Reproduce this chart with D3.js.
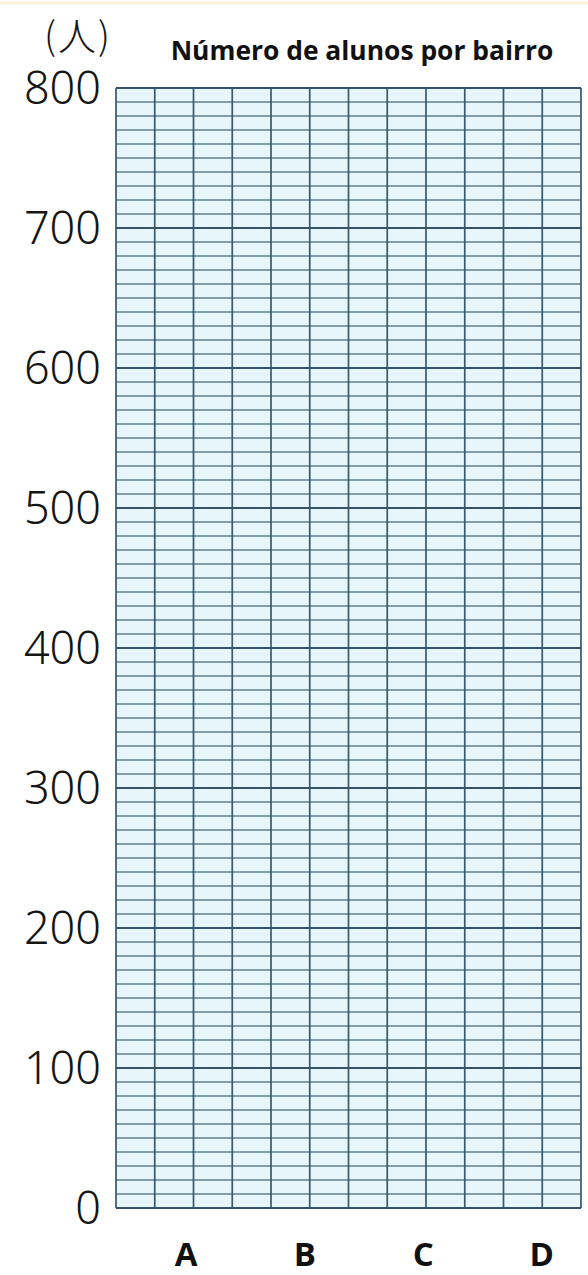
<!DOCTYPE html>
<html>
<head>
<meta charset="utf-8">
<script src="https://cdn.jsdelivr.net/npm/d3@7/dist/d3.min.js"></script>
<style>
  html, body { margin: 0; padding: 0; background: #ffffff; }
  svg { display: block; }
</style>
</head>
<body>
<svg id="chart" width="588" height="1275"></svg>
<script>
// ---- data ----
const title = "Número de alunos por bairro";
const unitLabel = "(人)";
const categories = ["A", "B", "C", "D"];
const values = []; // the reference grid is blank: no bars drawn
const yTicks = [0, 100, 200, 300, 400, 500, 600, 700, 800];
const yMax = 800;
const minorStep = 10;
const columns = 12;

// ---- layout ----
const W = 588, H = 1275;
const plot = { left: 116, right: 581, top: 88, bottom: 1208 };

const svg = d3.select("#chart");

const y = d3.scaleLinear().domain([0, yMax]).range([plot.bottom, plot.top]);
const xGrid = d3.scaleLinear().domain([0, columns]).range([plot.left, plot.right]);
const xCat = d3.scaleBand().domain(categories).range([127, 601]);

// faint scan line at top
svg.append("line").attr("x1", 0).attr("x2", W).attr("y1", 3).attr("y2", 3)
  .attr("stroke", "#fbf1d8").attr("stroke-width", 3);

// plot background
svg.append("rect")
  .attr("x", plot.left).attr("y", plot.top)
  .attr("width", plot.right - plot.left).attr("height", plot.bottom - plot.top)
  .attr("fill", "#e6f6fb");

// minor horizontal lines
const minorVals = d3.range(0, yMax + 1, minorStep).filter(v => yTicks.indexOf(v) < 0);
svg.append("g").selectAll("line").data(minorVals).join("line")
  .attr("x1", plot.left).attr("x2", plot.right)
  .attr("y1", d => y(d)).attr("y2", d => y(d))
  .attr("stroke", "#4a6878").attr("stroke-width", 1.4).attr("stroke-opacity", 0.85);

// vertical lines
svg.append("g").selectAll("line").data(d3.range(columns + 1)).join("line")
  .attr("x1", d => xGrid(d)).attr("x2", d => xGrid(d))
  .attr("y1", plot.top).attr("y2", plot.bottom)
  .attr("stroke", "#36596d").attr("stroke-width", 1.7);

// major horizontal lines
svg.append("g").selectAll("line").data(yTicks).join("line")
  .attr("x1", plot.left).attr("x2", plot.right)
  .attr("y1", d => y(d)).attr("y2", d => y(d))
  .attr("stroke", "#34536a").attr("stroke-width", 1.8);

// bars (none in reference)
svg.append("g").selectAll("rect").data(values).join("rect")
  .attr("x", (d, i) => xCat(categories[i]) + xCat.bandwidth() * 0.25)
  .attr("width", xCat.bandwidth() * 0.5)
  .attr("y", d => y(d)).attr("height", d => y(0) - y(d))
  .attr("fill", "#4a7fa0");

// y-axis labels
const yAxis = d3.axisLeft(y).tickValues(yTicks).tickSize(0).tickPadding(0);
const yg = svg.append("g").attr("transform", `translate(${plot.left - 15},0)`).call(yAxis);
yg.select(".domain").remove();
yg.selectAll("text")
  .attr("dy", "0.34em")
  .style("font-family", "'Noto Sans', 'DejaVu Sans', sans-serif")
  .style("font-weight", 300)
  .style("font-size", "45px")
  .attr("fill", "#151515");

// unit label
svg.append("text")
  .attr("x", 78).attr("y", 50)
  .attr("text-anchor", "middle")
  .style("font-family", "'Noto Sans CJK JP', sans-serif")
  .style("font-weight", 300)
  .style("font-size", "38px")
  .style("letter-spacing", "2px")
  .attr("fill", "#151515")
  .text(unitLabel);

// title
const t = svg.append("text")
  .attr("x", 362).attr("y", 60)
  .attr("text-anchor", "middle")
  .style("font-family", "'Open Sans', 'Noto Sans', sans-serif")
  .style("font-weight", 700)
  .style("font-size", "24px")
  .attr("fill", "#111")
  .text(title);
const tw = t.node().getComputedTextLength();
t.style("font-size", (24 * 383 / tw).toFixed(2) + "px");

// category labels
const xAxis = d3.axisBottom(xCat).tickSize(0).tickPadding(0);
const xg = svg.append("g").attr("transform", `translate(0,1266)`).call(xAxis);
xg.select(".domain").remove();
xg.selectAll("text")
  .attr("y", 0).attr("dy", 0)
  .style("font-family", "'Open Sans', 'Noto Sans', sans-serif")
  .style("font-weight", 700)
  .style("font-size", "33px")
  .attr("fill", "#111");
</script>
</body>
</html>
